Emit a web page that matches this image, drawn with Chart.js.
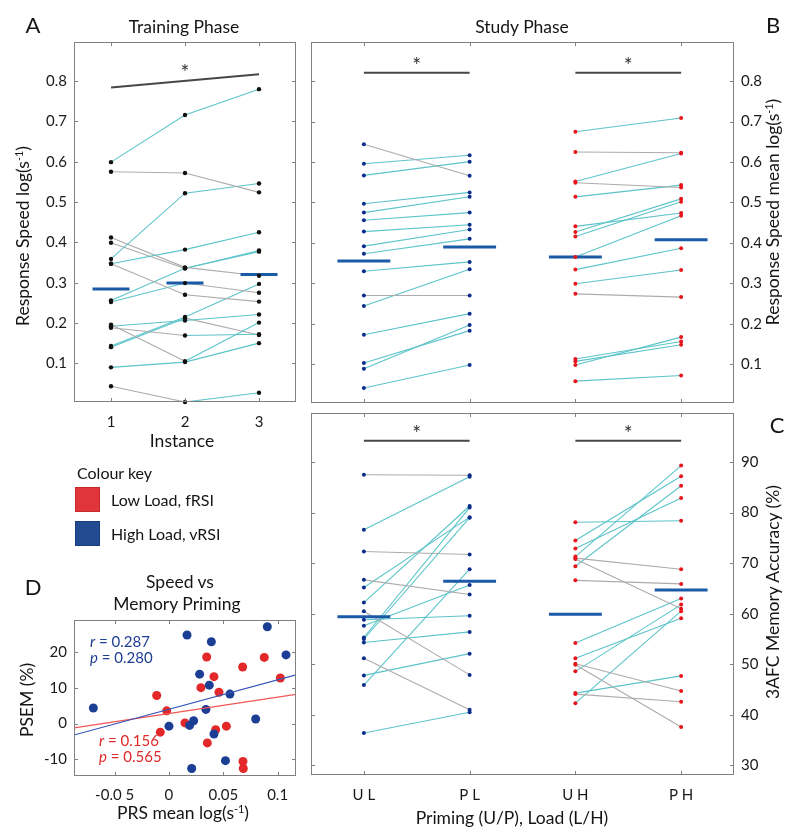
<!DOCTYPE html>
<html>
<head>
<meta charset="utf-8">
<script src="https://cdn.jsdelivr.net/npm/chart.js@4.4.1/dist/chart.umd.min.js"></script>
<style>
  body { margin: 0; background: #fff; }
  #wrap { position: relative; width: 800px; height: 837px; overflow: hidden; font-family: Lato, sans-serif; color: #151515; }
  canvas { position: absolute; left: 0; top: 0; }
  .t { position: absolute; white-space: nowrap; line-height: 1; transform: translate(-50%, -50%); }
  .l { position: absolute; white-space: nowrap; line-height: 1; transform: translate(0, -50%); }
  .v { position: absolute; white-space: nowrap; line-height: 1; transform: translate(-50%, -50%) rotate(-90deg); }
  sup { font-size: 0.62em; line-height: 0; vertical-align: 0.55em; }
  .sq { position: absolute; width: 25px; height: 25px; box-sizing: border-box; }
  i { font-style: italic; }
</style>
</head>
<body>
<div id="wrap">
  <canvas id="cA" width="800" height="837"></canvas>
  <canvas id="cB" width="800" height="837"></canvas>
  <canvas id="cC" width="800" height="837"></canvas>
  <canvas id="cD" width="800" height="837"></canvas>

  <div class="t" style="left:33px;top:25px;font-size:22px">A</div>
  <div class="t" style="left:184px;top:27px;font-size:17.5px">Training Phase</div>
  <div class="t" style="left:522px;top:27px;font-size:17.5px">Study Phase</div>
  <div class="t" style="left:773px;top:25px;font-size:22px">B</div>
  <div class="t" style="left:777px;top:425px;font-size:22px">C</div>
  <div class="t" style="left:33px;top:587px;font-size:22px">D</div>

  <div class="v" style="left:23px;top:236px;font-size:17.5px">Response Speed log(s<sup>-1</sup>)</div>
  <div class="t" style="left:182px;top:441px;font-size:17.5px">Instance</div>
  <div class="v" style="left:773px;top:212px;font-size:17.5px">Response Speed mean log(s<sup>-1</sup>)</div>
  <div class="v" style="left:773px;top:592px;font-size:17.5px">3AFC Memory Accuracy (%)</div>
  <div class="t" style="left:512px;top:818px;font-size:17.5px">Priming (U/P), Load (L/H)</div>

  <div class="l" style="left:77px;top:473px;font-size:16px">Colour key</div>
  <div class="sq" style="left:75px;top:487px;background:#e0353a;border:1px solid #c42a2e"></div>
  <div class="l" style="left:111px;top:500px;font-size:16px">Low Load, fRSI</div>
  <div class="sq" style="left:75px;top:521px;background:#234b92;border:1px solid #1b3c7a"></div>
  <div class="l" style="left:111px;top:534px;font-size:16px">High Load, vRSI</div>

  <div class="t" style="left:180px;top:582px;font-size:17.5px">Speed vs</div>
  <div class="t" style="left:177px;top:604px;font-size:17.5px">Memory Priming</div>
  <div class="v" style="left:27px;top:700px;font-size:17.5px">PSEM (%)</div>
  <div class="t" style="left:183px;top:813px;font-size:17.5px">PRS mean log(s<sup>-1</sup>)</div>
  <div class="l" style="left:90px;top:641px;font-size:15px;color:#1f3f95"><i>r</i> = 0.287</div>
  <div class="l" style="left:90px;top:657px;font-size:15px;color:#1f3f95"><i>p</i> = 0.280</div>
  <div class="l" style="left:99px;top:740px;font-size:15px;color:#e0282a"><i>r</i> = 0.156</div>
  <div class="l" style="left:99px;top:756px;font-size:15px;color:#e0282a"><i>p</i> = 0.565</div>
</div>

<script>
// ---- Panel A: training phase (16 participants x 3 instances)
const instances = [1, 2, 3];
const instanceLabels = ['1', '2', '3'];
const trainInst1 = [0.599, 0.575, 0.359, 0.347, 0.412, 0.399, 0.347, 0.256, 0.252, 0.196, 0.192, 0.188, 0.143, 0.140, 0.090, 0.043];
const trainInst2 = [0.716, 0.572, 0.522, 0.382, 0.338, 0.335, 0.270, 0.336, 0.299, 0.105, 0.206, 0.169, 0.215, 0.212, 0.103, 0.004];
const trainInst3 = [0.780, 0.524, 0.546, 0.425, 0.317, 0.380, 0.253, 0.377, 0.275, 0.201, 0.221, 0.172, 0.297, 0.170, 0.150, 0.027];
const trainMeans = [0.284, 0.299, 0.320];
const trainSigX = [1, 3];
const trainSigY = [0.784, 0.817];
const trainStar = [2, 0.829];

// ---- Panels B/C: study phase, conditions U L, P L, U H, P H
const studyPos = [1, 2, 3, 4];
const studyLabels = ['U L', 'P L', 'U H', 'P H'];
const speedTicks = [0.1, 0.2, 0.3, 0.4, 0.5, 0.6, 0.7, 0.8];
const speedTickLabels = ['0.1', '0.2', '0.3', '0.4', '0.5', '0.6', '0.7', '0.8'];
const speedUL = [0.644, 0.596, 0.567, 0.497, 0.475, 0.456, 0.428, 0.392, 0.373, 0.330, 0.270, 0.244, 0.173, 0.103, 0.089, 0.041];
const speedPL = [0.566, 0.617, 0.601, 0.525, 0.514, 0.475, 0.445, 0.433, 0.410, 0.353, 0.270, 0.335, 0.225, 0.183, 0.197, 0.098];
const speedUH = [0.675, 0.625, 0.552, 0.549, 0.514, 0.441, 0.427, 0.416, 0.365, 0.334, 0.299, 0.274, 0.113, 0.107, 0.098, 0.058];
const speedPH = [0.709, 0.623, 0.621, 0.537, 0.543, 0.474, 0.509, 0.502, 0.467, 0.387, 0.333, 0.266, 0.156, 0.148, 0.167, 0.072];
const speedMeans = [0.355, 0.390, 0.365, 0.408];
const speedSigY = 0.821;
const speedStarY = 0.846;

const accTicks = [30, 40, 50, 60, 70, 80, 90];
const accTickLabels = ['30', '40', '50', '60', '70', '80', '90'];
const accUL = [87.5, 76.6, 72.3, 66.7, 65.2, 62.2, 60.5, 58.8, 57.6, 55.3, 55.0, 54.3, 51.2, 47.8, 45.9, 36.4];
const accPL = [87.4, 87.1, 71.7, 63.8, 79.1, 81.3, 47.9, 59.6, 65.7, 81.0, 79.0, 56.4, 41.0, 52.1, 68.8, 40.5];
const accUH = [78.1, 74.5, 72.9, 71.3, 71.0, 70.8, 69.4, 66.6, 54.2, 51.2, 50.1, 49.9, 48.6, 44.3, 44.1, 42.3];
const accPH = [78.4, 87.2, 82.9, 89.3, 68.8, 61.0, 85.3, 65.9, 63.0, 59.1, 44.7, 37.6, 61.8, 47.7, 42.6, 60.5];
const accMeans = [59.4, 66.4, 59.9, 64.7];
const accSigY = 94.2;
const accStarY = 96.2;

// ---- Panel D: speed vs memory priming
const prsTicks = [-0.05, 0, 0.05, 0.1];
const prsTickLabels = ['-0.0 5', '0', '0.05', '0.1'];
const psemTicks = [-10, 0, 10, 20];
const psemTickLabels = ['-10', '0', '10', '20'];
const highX = [-0.0696, 0.0166, 0.0390, 0.0905, 0.1077, 0.0282, 0.0371, 0.0561, 0.0340, 0.0000, 0.0190, 0.0227, 0.0414, 0.0520, 0.0209, 0.0798];
const highY = [4.4, 24.9, 23.0, 27.2, 19.3, 13.9, 10.8, 8.3, 4.0, -0.7, -0.5, 0.8, -2.9, -10.4, -12.6, 1.3];
const lowX = [0.0347, 0.0877, 0.0678, 0.1025, 0.0414, 0.0294, 0.0460, -0.0113, -0.0021, 0.0147, -0.0080, 0.0430, 0.0528, 0.0353, 0.0681, 0.0684];
const lowY = [18.7, 18.6, 15.9, 12.8, 13.2, 10.1, 8.8, 7.9, 3.6, 0.2, -2.4, -1.7, -0.7, -5.4, -10.6, -12.6];
const fitX = [-0.0874, 0.1169];
const fitHighY = [-3.2, 13.7];
const fitLowY = [-1.2, 8.2];

// ---- styles
const TEAL = 'rgb(92,196,202)';
const GREY = 'rgb(172,172,172)';
const NAVY = '#0c2d8a';
const RED = '#e8151c';
const MEAN = '#1a5aa6';
const SIG = '#474747';
const HALF = 0.25;

Chart.defaults.font.family = 'Lato, sans-serif';
Chart.defaults.font.size = 15;
Chart.defaults.color = '#1a1a1a';

// frame with inward ticks on all four sides + asterisks
const frame = {
  id: 'frame',
  afterDraw(chart, args, opts) {
    const { ctx, chartArea: a, scales } = chart;
    ctx.save();
    ctx.strokeStyle = '#808080';
    ctx.lineWidth = 1;
    ctx.strokeRect(a.left + 0.5, a.top + 0.5, a.right - a.left - 1, a.bottom - a.top - 1);
    ctx.beginPath();
    scales.x.ticks.forEach(t => {
      const p = Math.round(scales.x.getPixelForValue(t.value)) + 0.5;
      ctx.moveTo(p, a.bottom); ctx.lineTo(p, a.bottom - 4);
      ctx.moveTo(p, a.top); ctx.lineTo(p, a.top + 4);
    });
    scales.y.ticks.forEach(t => {
      const p = Math.round(scales.y.getPixelForValue(t.value)) + 0.5;
      ctx.moveTo(a.left, p); ctx.lineTo(a.left + 4, p);
      ctx.moveTo(a.right, p); ctx.lineTo(a.right - 4, p);
    });
    ctx.stroke();
    ctx.fillStyle = '#333';
    ctx.font = '21px Lato';
    ctx.textAlign = 'center';
    ctx.textBaseline = 'middle';
    (opts.stars || []).forEach(s => {
      ctx.fillText('*', scales.x.getPixelForValue(s[0]), scales.y.getPixelForValue(s[1]) + 4);
    });
    ctx.restore();
  }
};

function axis(min, max, vals, labels, o) {
  return {
    type: 'linear', min, max, position: o.position,
    grid: { display: false, drawTicks: false },
    border: { display: false },
    afterBuildTicks: s => { s.ticks = vals.map(v => ({ value: v })); },
    afterFit: s => { if (s.isHorizontal()) s.height = o.size; else s.width = o.size; },
    ticks: {
      display: !!labels, autoSkip: false, maxRotation: 0, minRotation: 0,
      padding: o.pad || 0, color: '#1a1a1a', font: { size: 15 },
      callback: (v, i) => labels ? labels[i] : ''
    }
  };
}

function pad(box, yW, yRight, xH) {
  return {
    left: yRight ? box.l : box.l - yW,
    right: yRight ? 800 - box.r - yW : 800 - box.r,
    top: box.t,
    bottom: 837 - box.b - xH
  };
}

const segColor = { borderColor: c => c.p1.parsed.y > c.p0.parsed.y ? TEAL : GREY };

function lineSet(points) {
  return { data: points, showLine: true, borderWidth: 1.1, pointRadius: 0, segment: segColor, borderColor: TEAL };
}
function dotSet(points, color, r) {
  return { data: points, showLine: false, pointRadius: r, pointBackgroundColor: color, pointBorderWidth: 0, clip: false };
}
function meanSets(xs, means) {
  return means.map((m, i) => ({
    data: [{ x: xs[i] - HALF, y: m }, { x: xs[i] + HALF, y: m }],
    showLine: true, borderColor: MEAN, borderWidth: 3, pointRadius: 0
  }));
}
function sigSet(xs, ys, w) {
  return { data: xs.map((x, i) => ({ x, y: ys[i] })), showLine: true, borderColor: SIG, borderWidth: w, pointRadius: 0 };
}

const common = {
  responsive: false, animation: false, events: [],
  plugins: { legend: { display: false }, tooltip: { enabled: false } }
};

// ---- Panel A
const boxA = { l: 74, r: 296, t: 42, b: 402 };
const trainSeries = [trainInst1, trainInst2, trainInst3];
const trainDots = trainSeries.flatMap((s, j) => s.map(v => ({ x: instances[j], y: v })));
new Chart(document.getElementById('cA'), {
  type: 'scatter',
  data: {
    datasets: [
      dotSet(trainDots, '#111', 2.2),
      ...meanSets(instances, trainMeans),
      sigSet(trainSigX, trainSigY, 2),
      ...trainInst1.map((v, k) => lineSet(instances.map((x, j) => ({ x, y: trainSeries[j][k] }))))
    ]
  },
  options: {
    ...common,
    layout: { padding: pad(boxA, 40, false, 30) },
    plugins: { ...common.plugins, frame: { stars: [trainStar] } },
    scales: {
      x: axis(0.5, 3.5, instances, instanceLabels, { position: 'bottom', size: 30, pad: 11 }),
      y: axis(0.004, 0.897, speedTicks, speedTickLabels, { position: 'left', size: 40, pad: 7 })
    }
  },
  plugins: [frame]
});

// ---- Panels B and C share the same layout
function studyChart(id, box, ul, pl, uh, ph, means, sigY, starY, yMin, yMax, ticks, tickLabels, showX) {
  const dots = [
    ...ul.map(v => ({ x: studyPos[0], y: v })), ...pl.map(v => ({ x: studyPos[1], y: v }))
  ];
  const dotsH = [
    ...uh.map(v => ({ x: studyPos[2], y: v })), ...ph.map(v => ({ x: studyPos[3], y: v }))
  ];
  new Chart(document.getElementById(id), {
    type: 'scatter',
    data: {
      datasets: [
        dotSet(dots, NAVY, 2),
        dotSet(dotsH, RED, 2),
        ...meanSets(studyPos, means),
        sigSet([studyPos[0], studyPos[1]], [sigY, sigY], 2),
        sigSet([studyPos[2], studyPos[3]], [sigY, sigY], 2),
        ...ul.map((v, k) => lineSet([{ x: studyPos[0], y: v }, { x: studyPos[1], y: pl[k] }])),
        ...uh.map((v, k) => lineSet([{ x: studyPos[2], y: v }, { x: studyPos[3], y: ph[k] }]))
      ]
    },
    options: {
      ...common,
      layout: { padding: pad(box, 40, true, showX ? 30 : 0) },
      plugins: { ...common.plugins, frame: { stars: [[1.5, starY], [3.5, starY]] } },
      scales: {
        x: axis(0.5, 4.5, studyPos, showX ? studyLabels : null, { position: 'bottom', size: showX ? 30 : 0, pad: 11 }),
        y: axis(yMin, yMax, ticks, tickLabels, { position: 'right', size: 40, pad: 7 })
      }
    },
    plugins: [frame]
  });
}
studyChart('cB', { l: 311, r: 734, t: 42, b: 403 }, speedUL, speedPL, speedUH, speedPH, speedMeans,
  speedSigY, speedStarY, 0.004, 0.897, speedTicks, speedTickLabels, false);
studyChart('cC', { l: 311, r: 734, t: 413, b: 775 }, accUL, accPL, accUH, accPH, accMeans,
  accSigY, accStarY, 28.1, 99.7, accTicks, accTickLabels, true);

// ---- Panel D
const boxD = { l: 74, r: 296, t: 620, b: 776 };
new Chart(document.getElementById('cD'), {
  type: 'scatter',
  data: {
    datasets: [
      { data: fitX.map((x, i) => ({ x, y: fitHighY[i] })), showLine: true, borderColor: 'rgb(55,85,185)', borderWidth: 1.2, pointRadius: 0 },
      { data: fitX.map((x, i) => ({ x, y: fitLowY[i] })), showLine: true, borderColor: 'rgb(240,85,85)', borderWidth: 1.2, pointRadius: 0 },
      dotSet(highX.map((x, i) => ({ x, y: highY[i] })), 'rgb(28,62,148)', 4.5),
      dotSet(lowX.map((x, i) => ({ x, y: lowY[i] })), 'rgb(226,40,40)', 4.5)
    ]
  },
  options: {
    ...common,
    layout: { padding: pad(boxD, 40, false, 30) },
    plugins: { ...common.plugins, frame: {} },
    scales: {
      x: axis(fitX[0], fitX[1], prsTicks, prsTickLabels, { position: 'bottom', size: 30, pad: 10 }),
      y: axis(-14.7, 29.1, psemTicks, psemTickLabels, { position: 'left', size: 40, pad: 7 })
    }
  },
  plugins: [frame]
});
</script>
</body>
</html>
